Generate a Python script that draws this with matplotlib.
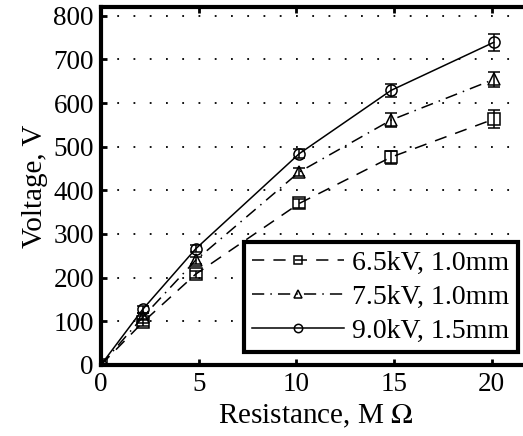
import matplotlib.pyplot as plt

plt.rcParams['font.family'] = ['Liberation Serif', 'DejaVu Serif']
plt.rcParams['mathtext.fontset'] = 'stix'

# data
res_a = [0, 2.15, 4.85, 10.15, 14.85, 20.1]
v_65 = [0, 98, 208, 370, 476, 563]
v_75 = [0, 110, 240, 442, 561, 654]
v_90 = [0, 128, 266, 484, 629, 739]
err_65 = [0, 8, 8, 10, 15, 20]
err_75 = [0, 8, 8, 10, 15, 18]
err_90 = [0, 8, 8, 10, 15, 20]
labels = ['6.5kV, 1.0mm', '7.5kV, 1.0mm', '9.0kV, 1.5mm']

fig = plt.figure(figsize=(5.23, 4.36), dpi=100)
ax = fig.add_axes([0.193, 0.163, 0.822, 0.821])

styles = [('s', (0, (8, 6))), ('^', (0, (8, 4, 1, 4))), ('o', '-')]
series = [(v_65, err_65), (v_75, err_75), (v_90, err_90)]
for (vals, errs), (mk, ls), lab in zip(series, styles, labels):
    ax.plot(res_a, vals, color='black', linestyle=ls, linewidth=1.1)
    ax.errorbar(res_a, vals, yerr=errs, fmt=mk, color='black', mfc='none',
                ms=8, mew=1.1, elinewidth=1.1, capsize=4, capthick=1.1)
    ax.plot([], [], color='black', linestyle=ls, linewidth=1.1, marker=mk,
            mfc='none', ms=6, mew=1.1, label=lab)

ax.set_xlim(0, 22)
ax.set_ylim(0, 820)
ax.set_xticks([0, 5, 10, 15, 20])
ax.set_yticks(range(0, 801, 100))
ax.yaxis.grid(True, color='black', linestyle=(0, (1, 8)), linewidth=1.3)
ax.tick_params(direction='in', length=4, width=2, labelsize=19.5, top=True, right=True,
               pad=5)
for sp in ax.spines.values():
    sp.set_linewidth(3)

ax.set_xlabel('Resistance, M $\\Omega$', fontsize=21, labelpad=4)
ax.set_ylabel('Voltage, V', fontsize=21, labelpad=4)

leg = ax.legend(loc='lower right', bbox_to_anchor=(0.97, 0.036), borderaxespad=0,
                fontsize=20, handlelength=3.3, handletextpad=0.3, labelspacing=0.3,
                fancybox=False, framealpha=1, edgecolor='black', borderpad=0.3)
leg.get_frame().set_linewidth(3)

fig.savefig('out.png', dpi=100)
